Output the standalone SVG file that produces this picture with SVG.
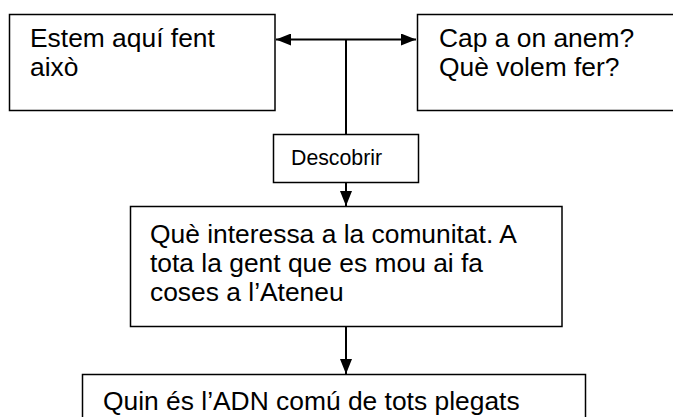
<svg xmlns="http://www.w3.org/2000/svg" width="673" height="417" viewBox="0 0 673 417">
<defs>
<style>
.box{fill:#fff;stroke:#000;stroke-width:1.5}
.t{font-family:"Liberation Sans",Arial,sans-serif;font-size:26.4px;fill:#000}
.s{font-family:"Liberation Sans",Arial,sans-serif;font-size:21.3px;fill:#000}
.c{stroke:#000;stroke-width:2;fill:none}
</style>
<marker id="ah" viewBox="0 0 15 12" refX="15" refY="6" markerWidth="7.5" markerHeight="6" markerUnits="strokeWidth" orient="auto-start-reverse">
<path d="M0,0 L15,6 L0,12 Z" fill="#000"/>
</marker>
</defs>
<rect width="673" height="417" fill="#fff"/>
<g id="connectors">
<line class="c" x1="276" y1="39.5" x2="416" y2="39.5" marker-start="url(#ah)" marker-end="url(#ah)"/>
<line class="c" x1="346" y1="39.5" x2="346" y2="134"/>
<line class="c" x1="346" y1="182" x2="346" y2="206" marker-end="url(#ah)"/>
<line class="c" x1="346" y1="326" x2="346" y2="374" marker-end="url(#ah)"/>
</g>
<g id="left">
<rect class="box" x="9.5" y="14.5" width="265.5" height="96"/>
<text class="t" x="30" y="47">Estem aquí fent</text>
<text class="t" x="30" y="76">això</text>
</g>
<g id="right">
<rect class="box" x="417.5" y="14.5" width="270" height="96"/>
<text class="t" x="439" y="47">Cap a on anem?</text>
<text class="t" x="439" y="76">Què volem fer?</text>
</g>
<g id="descobrir">
<rect class="box" x="273.5" y="134.5" width="145" height="48"/>
<text class="s" x="291" y="165">Descobrir</text>
</g>
<g id="middle">
<rect class="box" x="130.5" y="206.5" width="431.5" height="120"/>
<text class="t" x="150" y="243">Què interessa a la comunitat. A</text>
<text class="t" x="150" y="272">tota la gent que es mou ai fa</text>
<text class="t" x="150" y="301">coses a l’Ateneu</text>
</g>
<g id="bottom">
<rect class="box" x="82.5" y="374.5" width="503" height="60"/>
<text class="t" x="103" y="410">Quin és l’ADN comú de tots plegats</text>
</g>
</svg>
